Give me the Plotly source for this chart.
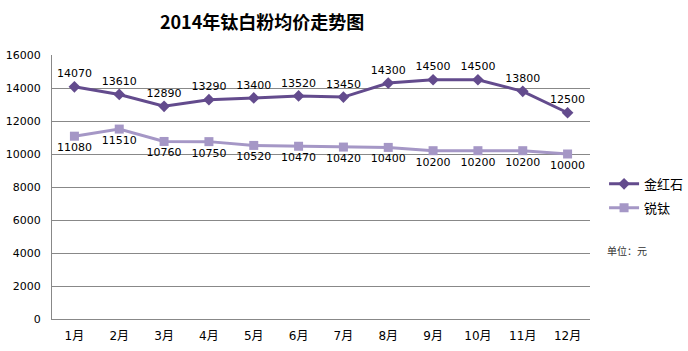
import plotly.graph_objects as go

months = ["1月", "2月", "3月", "4月", "5月", "6月", "7月", "8月", "9月", "10月", "11月", "12月"]
rutile = [14070, 13610, 12890, 13290, 13400, 13520, 13450, 14300, 14500, 14500, 13800, 12500]
anatase = [11080, 11510, 10760, 10750, 10520, 10470, 10420, 10400, 10200, 10200, 10200, 10000]

font = "Noto Sans CJK SC, DejaVu Sans, sans-serif"
numfont = "DejaVu Sans, Noto Sans CJK SC, sans-serif"
fig = go.Figure()
fig.add_trace(go.Scatter(
    x=months, y=rutile, name="金红石", mode="lines+markers+text", legendgroup="a",
    line=dict(color="#634B8D", width=3),
    marker=dict(symbol="diamond", size=9, color="#634B8D"),
    text=[str(v) for v in rutile], textposition="top center",
    textfont=dict(size=11, color="#000000", family=numfont),
    cliponaxis=False,
))
fig.add_trace(go.Scatter(
    x=months, y=anatase, name="锐钛", mode="lines+markers+text", legendgroup="b",
    line=dict(color="#A597C6", width=3),
    marker=dict(symbol="square", size=9, color="#A597C6"),
    text=[str(v) for v in anatase], textposition="bottom center",
    textfont=dict(size=11, color="#000000", family=numfont),
    cliponaxis=False,
))

fig.update_layout(
    width=688, height=351,
    margin=dict(l=52, r=98, t=55, b=32, autoexpand=False),
    paper_bgcolor="white", plot_bgcolor="white",
    font=dict(family=font, size=11, color="#000000"),
    title=dict(text="<b>2014年钛白粉均价走势图</b>", x=0.381, xref="container", y=0.935, yref="container",
               font=dict(size=18, color="#000000", family=font), xanchor="center", yanchor="middle"),
    showlegend=True,
    legend=dict(x=0.878, y=0.442, xref="container", yref="container", xanchor="left", yanchor="middle",
                bgcolor="rgba(0,0,0,0)", font=dict(size=13), tracegroupgap=4, itemwidth=30,
                traceorder="grouped"),
    xaxis=dict(type="category", range=[-0.5, 11.5], showline=True, linecolor="#888888", linewidth=1,
               showgrid=False, ticks="", tickfont=dict(size=12, family=numfont), automargin=False,
               ticklabelstandoff=6),
    yaxis=dict(range=[0, 16000], dtick=2000, showline=True, linecolor="#888888", linewidth=1,
               showgrid=True, gridcolor="#888888", gridwidth=1, ticks="",
               tickfont=dict(size=11, family=numfont), zeroline=False, tickformat="d", automargin=False,
               ticklabelstandoff=8),
)
fig.add_annotation(text="单位：元", xref="paper", yref="paper", x=1.028, y=0.261, showarrow=False,
                   xanchor="left", yanchor="middle", font=dict(size=10, color="#333333"))
fig.write_html("out.html")
